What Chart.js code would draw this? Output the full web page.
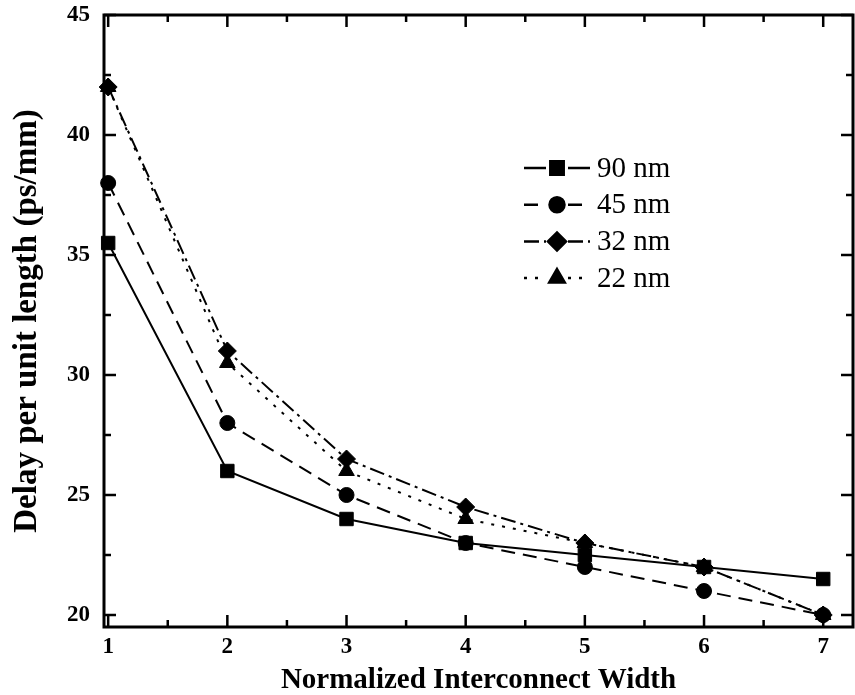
<!DOCTYPE html>
<html>
<head>
<meta charset="utf-8">
<script src="https://cdn.jsdelivr.net/npm/chart.js@4"></script>
<style>
  html, body { margin: 0; padding: 0; background: #fff; overflow: hidden; }
  canvas { display: block; }
</style>
</head>
<body>
<canvas id="delay" width="855" height="695"></canvas>
<script>
const widths = [1, 2, 3, 4, 5, 6, 7];
const delay90 = [35.5, 26, 24, 23, 22.5, 22, 21.5];
const delay45 = [38, 28, 25, 23, 22, 21, 20];
const delay32 = [42, 31, 26.5, 24.5, 23, 22, 20];
const delay22 = [42, 30.5, 26, 24, 23, 22, 20];
const seriesNames = ['90 nm', '45 nm', '32 nm', '22 nm'];
const xTicks = [1, 2, 3, 4, 5, 6, 7];
const yTicks = [20, 25, 30, 35, 40, 45];

const SERIF = '"Liberation Serif", "DejaVu Serif", serif';

const toXY = (vals) => vals.map((v, i) => ({ x: widths[i], y: v }));

const styles = [
  { dash: [], point: 'rect', r: 9.5 },
  { dash: [14, 8], point: 'circle', r: 7.5 },
  { dash: [15, 5, 3, 5], point: 'rectRot', r: 9 },
  { dash: [3, 8], point: 'triangle', r: 9 }
];

const datasets = [delay90, delay45, delay32, delay22].map((vals, i) => ({
  label: seriesNames[i],
  data: toXY(vals),
  borderColor: '#000',
  backgroundColor: '#000',
  borderWidth: 2,
  borderDash: styles[i].dash,
  pointStyle: styles[i].point,
  pointRadius: styles[i].r,
  pointBorderWidth: 1,
  tension: 0,
  clip: false
}));

// frame with inward major/minor ticks on all four sides
const framePlugin = {
  id: 'frame',
  beforeDatasetsDraw(chart) {
    const { ctx, chartArea: a, scales } = chart;
    const xs = scales.x, ys = scales.y;
    ctx.save();
    ctx.strokeStyle = '#000';
    ctx.lineWidth = 2.5;
    for (let v = 1; v <= 7.001; v += 0.5) {
      const px = xs.getPixelForValue(v);
      const len = Number.isInteger(v) ? 12 : 7;
      ctx.beginPath();
      ctx.moveTo(px, a.bottom); ctx.lineTo(px, a.bottom - len);
      ctx.moveTo(px, a.top); ctx.lineTo(px, a.top + len);
      ctx.stroke();
    }
    for (let v = 20; v <= 45.001; v += 2.5) {
      const py = ys.getPixelForValue(v);
      const len = v % 5 === 0 ? 12 : 7;
      ctx.beginPath();
      ctx.moveTo(a.left, py); ctx.lineTo(a.left + len, py);
      ctx.moveTo(a.right, py); ctx.lineTo(a.right - len, py);
      ctx.stroke();
    }
    ctx.lineWidth = 3;
    ctx.strokeRect(a.left, a.top, a.right - a.left, a.bottom - a.top);
    ctx.restore();
  }
};

// legend drawn inside the plot
const legendPlugin = {
  id: 'insideLegend',
  afterDraw(chart) {
    const { ctx } = chart;
    ctx.save();
    chart.data.datasets.forEach((ds, i) => {
      const y = 168 + i * 36.7;
      ctx.strokeStyle = '#000';
      ctx.lineWidth = 2.5;
      ctx.setLineDash(ds.borderDash);
      ctx.beginPath();
      ctx.moveTo(524, y); ctx.lineTo(546, y);
      ctx.moveTo(568, y); ctx.lineTo(590, y);
      ctx.stroke();
      ctx.setLineDash([]);
      ctx.fillStyle = '#000';
      Chart.helpers.drawPoint(ctx, {
        pointStyle: ds.pointStyle, radius: ds.pointRadius, borderWidth: 1
      }, 557, y);
      ctx.font = '29px ' + SERIF;
      ctx.textAlign = 'left';
      ctx.textBaseline = 'middle';
      ctx.fillText(ds.label, 597, y + 1);
    });
    ctx.restore();
  }
};

new Chart(document.getElementById('delay'), {
  type: 'line',
  data: { datasets },
  plugins: [framePlugin, legendPlugin],
  options: {
    responsive: false,
    animation: false,
    layout: { autoPadding: false, padding: { top: 15, right: 2, left: 0, bottom: 0 } },
    plugins: { legend: { display: false }, tooltip: { enabled: false } },
    scales: {
      x: {
        type: 'linear',
        min: 0.965,
        max: 7.25,
        afterBuildTicks: (s) => { s.ticks = xTicks.map((v) => ({ value: v })); },
        afterFit: (s) => { s.height = 68; s.paddingLeft = 0; s.paddingRight = 0; },
        grid: { display: false, drawTicks: false },
        border: { display: false },
        ticks: {
          color: '#000',
          padding: 6,
          font: { family: SERIF, size: 23, weight: 'bold' }
        },
        title: {
          display: true,
          text: 'Normalized Interconnect Width',
          color: '#000',
          padding: { top: 0, bottom: -3 },
          font: { family: SERIF, size: 29, weight: 'bold' }
        }
      },
      y: {
        min: 19.5,
        max: 45,
        afterBuildTicks: (s) => { s.ticks = yTicks.map((v) => ({ value: v })); },
        afterFit: (s) => { s.width = 104; s.paddingTop = 0; s.paddingBottom = 0; },
        grid: { display: false, drawTicks: false },
        border: { display: false },
        ticks: {
          color: '#000',
          padding: 14,
          font: { family: SERIF, size: 23, weight: 'bold' }
        },
        title: {
          display: true,
          text: 'Delay per unit length (ps/mm)',
          color: '#000',
          padding: { top: 8, bottom: 0 },
          font: { family: SERIF, size: 33, weight: 'bold' }
        }
      }
    }
  }
});
</script>
</body>
</html>
